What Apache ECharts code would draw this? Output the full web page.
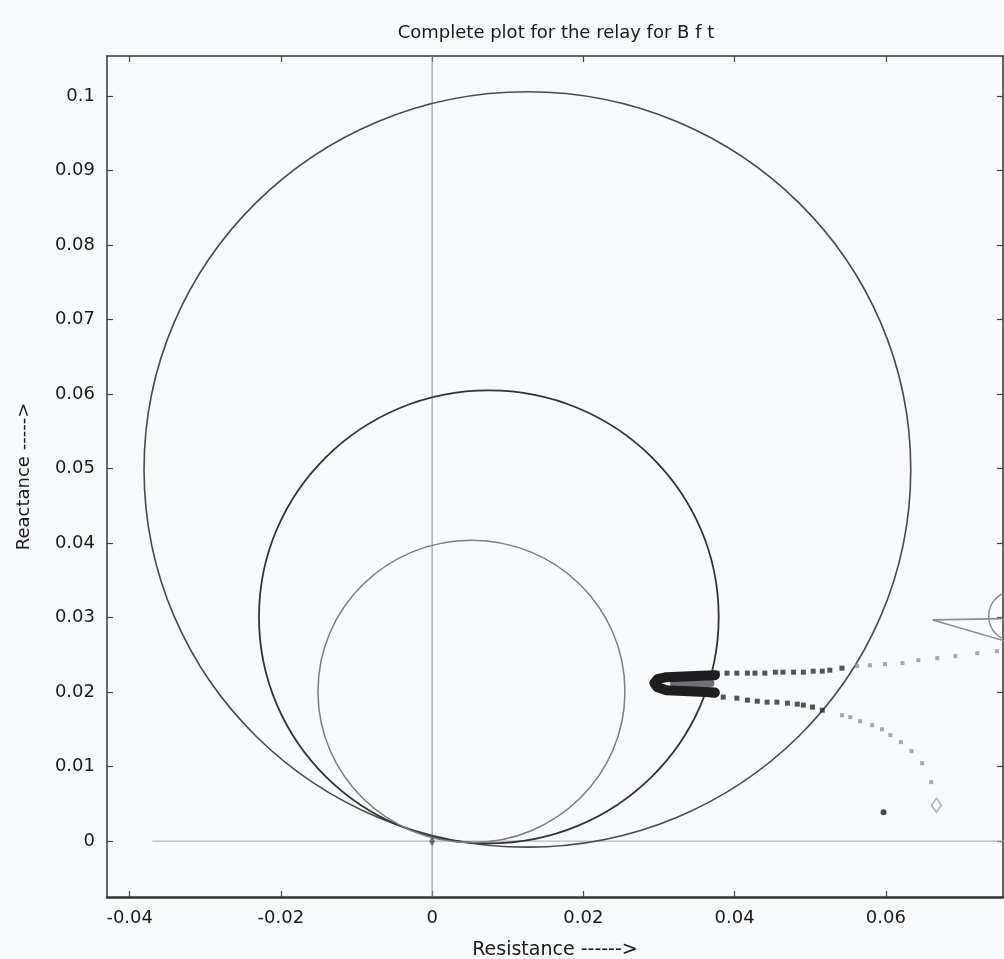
<!DOCTYPE html>
<html>
<head>
<meta charset="utf-8">
<script src="https://cdn.jsdelivr.net/npm/echarts@6/dist/echarts.min.js"></script>
<style>
  html, body { margin: 0; padding: 0; background: #f7f9fb; }
  #chart { width: 1004px; height: 959px; }
</style>
</head>
<body>
<div id="chart"></div>
<script>
// ---- data ----
const xTicks = [-0.04, -0.02, 0, 0.02, 0.04, 0.06];
const yTicks = [0, 0.01, 0.02, 0.03, 0.04, 0.05, 0.06, 0.07, 0.08, 0.09, 0.1];

// relay characteristic circles: [centerR, centerX, radius]
const circleBig = [0.0126, 0.0499, 0.0507];
const circleMid = [0.0075, 0.0301, 0.0304];
const circleSmall = [0.0052, 0.0201, 0.0203];
// partial circle at the right edge
const circleEdge = [0.0770, 0.0302, 0.0034];

// reference axes lines
const zeroVertical = [[0, -0.0075], [0, 0.1054]];
const zeroHorizontal = [[-0.0370, 0], [0.0800, 0]];

// dense tip of the impedance trajectory
const trajTip = [[0.0374, 0.02228], [0.0340, 0.02215], [0.0310, 0.02201], [0.0298, 0.02174],
  [0.0294, 0.02121], [0.0298, 0.02067], [0.0310, 0.02027], [0.0340, 0.02013], [0.0374, 0.01995]];
const trajTipInner = [[0.0368, 0.02121], [0.0320, 0.02121]];

// dark dots (upper and lower branch near tip)
const darkUpper = [[0.0377, 0.02255], [0.0390, 0.02255], [0.0403, 0.02255], [0.0417, 0.02255],
  [0.0427, 0.02255], [0.0440, 0.02255], [0.0454, 0.02268], [0.0464, 0.02268], [0.0478, 0.02268],
  [0.0491, 0.02268], [0.0504, 0.02282], [0.0516, 0.02282], [0.0526, 0.02295], [0.0542, 0.02322]];
const darkLower = [[0.0372, 0.01960], [0.0385, 0.01933], [0.0403, 0.01919], [0.0417, 0.01893],
  [0.0430, 0.01879], [0.0443, 0.01866], [0.0456, 0.01866], [0.0470, 0.01852], [0.0483, 0.01839],
  [0.0491, 0.01826], [0.0503, 0.01799], [0.0516, 0.01758]];
// lighter dots further out
const grayUpper = [[0.0562, 0.02349], [0.0579, 0.02362], [0.0599, 0.02376], [0.0622, 0.02389],
  [0.0643, 0.02430], [0.0668, 0.02456], [0.0692, 0.02483], [0.0721, 0.02523], [0.0747, 0.02550]];
const grayLower = [[0.0542, 0.01691], [0.0553, 0.01664], [0.0566, 0.01611], [0.0582, 0.01557],
  [0.0595, 0.01503], [0.0606, 0.01423], [0.0620, 0.01329], [0.0634, 0.01208], [0.0648, 0.01047],
  [0.0660, 0.00792]];
const diamondPoint = [[0.0667, 0.00483]];
const blackDot = [[0.0597, 0.00389]];
const originMark = [[0, 0]];
// arrow-like wedge at right edge
const wedge = [[0.0770, 0.0299], [0.0662, 0.0297], [0.0770, 0.0265]];

// ---- chart ----
const FONT = 'DejaVu Sans, Verdana, sans-serif';
const chart = echarts.init(document.getElementById('chart'));

function circleSeries(c, color, width, z) {
  return {
    type: 'custom',
    coordinateSystem: 'cartesian2d',
    clip: true,
    silent: true,
    z: z,
    data: [c],
    renderItem: function (params, api) {
      const center = api.coord([api.value(0), api.value(1)]);
      const sz = api.size([api.value(2), api.value(2)]);
      return {
        type: 'ellipse',
        shape: { cx: center[0], cy: center[1], rx: sz[0], ry: sz[1] },
        style: { fill: 'none', stroke: color, lineWidth: width }
      };
    },
    encode: { x: 0, y: 1 }
  };
}

const axisCommon = {
  type: 'value',
  splitLine: { show: false },
  axisLine: { show: true, onZero: false, lineStyle: { color: '#333', width: 1.5 } },
  axisTick: { show: true, inside: true, length: 6, lineStyle: { color: '#444', width: 1.2 } },
  axisLabel: { fontFamily: FONT, fontSize: 18, color: '#1a1a1a' }
};

chart.setOption({
  backgroundColor: '#f7f9fb',
  animation: false,
  title: {
    text: 'Complete plot for the relay for B f t',
    left: 551, top: 19, textAlign: 'center',
    textStyle: { fontFamily: FONT, fontSize: 18, fontWeight: 'normal', color: '#1a1a1a' }
  },
  grid: { left: 107, right: 1, top: 56, bottom: 62, containLabel: false, outerBoundsMode: 'none' },
  xAxis: [
    Object.assign({}, axisCommon, {
      min: -0.0430, max: 0.0755, position: 'bottom',
      axisLine: { show: true, onZero: false, lineStyle: { color: '#333', width: 2.5 } },
      axisTick: Object.assign({}, axisCommon.axisTick, { customValues: xTicks }),
      axisLabel: Object.assign({}, axisCommon.axisLabel, { customValues: xTicks, margin: 12 }),
      name: 'Resistance ------>', nameLocation: 'middle', nameGap: 44,
      nameTextStyle: { fontFamily: FONT, fontSize: 19, color: '#1a1a1a' }
    }),
    Object.assign({}, axisCommon, {
      min: -0.0430, max: 0.0755, position: 'top',
      axisTick: Object.assign({}, axisCommon.axisTick, { customValues: xTicks }),
      axisLabel: { show: false }
    })
  ],
  yAxis: [
    Object.assign({}, axisCommon, {
      min: -0.0075, max: 0.1054, position: 'left',
      axisTick: Object.assign({}, axisCommon.axisTick, { customValues: yTicks }),
      axisLabel: Object.assign({}, axisCommon.axisLabel, { customValues: yTicks, margin: 12 }),
      name: 'Reactance ----->', nameLocation: 'middle', nameGap: 74, nameRotate: 90,
      nameTextStyle: { fontFamily: FONT, fontSize: 18, color: '#1a1a1a' }
    }),
    Object.assign({}, axisCommon, {
      min: -0.0075, max: 0.1054, position: 'right',
      axisTick: Object.assign({}, axisCommon.axisTick, { customValues: yTicks }),
      axisLabel: { show: false }
    })
  ],
  series: [
    { type: 'line', data: zeroVertical, symbol: 'none', silent: true, z: 1,
      lineStyle: { color: '#8a8f96', width: 1 } },
    { type: 'line', data: zeroHorizontal, symbol: 'none', silent: true, z: 1,
      lineStyle: { color: '#a5aab0', width: 1 } },
    circleSeries(circleBig, '#4a4a4a', 1.6, 3),
    circleSeries(circleMid, '#333333', 1.8, 3),
    circleSeries(circleSmall, '#7a7d82', 1.5, 3),
    circleSeries(circleEdge, '#8a8d92', 1.5, 3),
    { type: 'line', data: wedge, symbol: 'none', silent: true, z: 3,
      lineStyle: { color: '#8a8d92', width: 1.6 } },
    { type: 'line', data: trajTipInner, symbol: 'none', silent: true, z: 4,
      lineStyle: { color: '#6e7277', width: 8, cap: 'round' } },
    { type: 'line', data: trajTip, symbol: 'none', silent: true, z: 5,
      lineStyle: { color: '#1e1e1e', width: 10, cap: 'round', join: 'round' } },
    { type: 'scatter', data: darkUpper.concat(darkLower), symbol: 'rect', symbolSize: 5, silent: true, z: 4,
      itemStyle: { color: '#2a2a2a' } },
    { type: 'scatter', data: grayUpper.concat(grayLower), symbol: 'rect', symbolSize: 4, silent: true, z: 4,
      itemStyle: { color: '#8f949a' } },
    { type: 'scatter', data: diamondPoint, symbol: 'diamond', symbolSize: [10, 14], silent: true, z: 4,
      itemStyle: { color: 'none', borderColor: '#9a9ea4', borderWidth: 1.5 } },
    { type: 'scatter', data: blackDot, symbol: 'circle', symbolSize: 6, silent: true, z: 4,
      itemStyle: { color: '#1a1a1a' } },
    { type: 'scatter', data: originMark, symbol: 'diamond', symbolSize: [6, 10], silent: true, z: 4,
      itemStyle: { color: '#555' } }
  ]
});
</script>
</body>
</html>
